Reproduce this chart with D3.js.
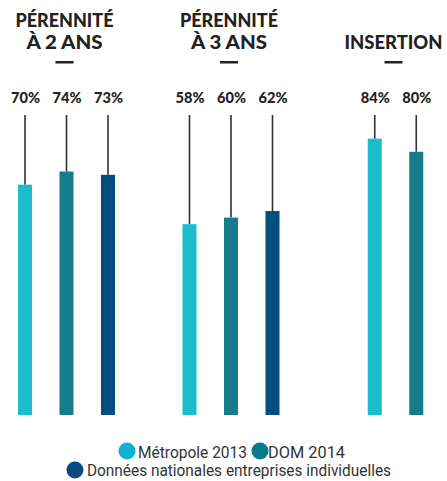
<!DOCTYPE html>
<html><head><meta charset="utf-8">
<script src="https://cdn.jsdelivr.net/npm/d3@7"></script>
<style>body{margin:0;background:#fff;}svg{display:block;}</style>
</head><body>
<script>
const groups = ["PÉRENNITÉ|À 2 ANS", "PÉRENNITÉ|À 3 ANS", "INSERTION"];
const seriesNames = ["Métropole 2013", "DOM 2014", "Données nationales entreprises individuelles"];
const metropole = [70, 58, 84];
const dom = [74, 60, 80];
const nationales = [73, 62, null];
const colors = ["#1bbdcb", "#167b8a", "#034e80"];
const legendColors = ["#10b0cf", "#0b7a8c", "#0b4a80"];

const W = 447, H = 481;
const svg = d3.select("body").append("svg").attr("width", W).attr("height", H);

const x = d3.scalePoint().domain(groups).range([66.5, 395.5]);
const y = d3.scaleLinear().domain([0, 100]).range([415, 86]);
const step = 41.5, bw = 14;

const seriesVals = [metropole, dom, nationales];
const data = [];
groups.forEach((g, gi) => {
  const items = seriesVals.map((s, si) => ({g, gi, si, v: s[gi]})).filter(d => d.v != null);
  const n = items.length;
  items.forEach((d, k) => { d.cx = x(g) + (k - (n - 1) / 2) * step; data.push(d); });
});

// titles
const titleWidth = t => t.length * 10.9;
groups.forEach(g => {
  const lines = g.split("|");
  const cx = x(g) - 2;
  const baselines = lines.length === 2 ? [27, 49] : [49];
  lines.forEach((l, i) => {
    svg.append("text").attr("text-anchor", "middle")
      .attr("x", cx).attr("y", baselines[i])
      .style("font-family", "Lato, 'DejaVu Sans', sans-serif").style("font-weight", 900)
      .style("font-size", "19px").attr("fill", "#222")
      .attr("textLength", l.includes("ANS") ? 76 : 98).attr("lengthAdjust", "spacingAndGlyphs")
      .text(l);
  });
  svg.append("rect").attr("x", cx - 9).attr("y", 61).attr("width", 18).attr("height", 2.5).attr("fill", "#222");
});

// lines
svg.selectAll("line.lead").data(data).join("line").attr("class", "lead")
  .attr("x1", d => d.cx).attr("x2", d => d.cx)
  .attr("y1", 115).attr("y2", d => y(d.v))
  .attr("stroke", "#333").attr("stroke-width", 1.6);

// bars
svg.selectAll("rect.bar").data(data).join("rect").attr("class", "bar")
  .attr("x", d => d.cx - bw / 2).attr("width", bw)
  .attr("y", d => y(d.v)).attr("height", d => y(0) - y(d.v))
  .attr("fill", d => colors[d.si]);

// value labels
svg.selectAll("text.val").data(data).join("text").attr("class", "val")
  .attr("x", d => d.cx + 0.5).attr("y", 103).attr("text-anchor", "middle")
  .style("font-family", "Lato, 'DejaVu Sans', sans-serif").style("font-weight", 900)
  .style("font-size", "15px").attr("fill", "#222")
  .attr("textLength", 29).attr("lengthAdjust", "spacingAndGlyphs")
  .text(d => d.v + "%");

// legend
const legend = [
  {si: 0, cx: 127, cy: 451, tx: 138, ty: 458, w: 109},
  {si: 1, cx: 260, cy: 451, tx: 268, ty: 458, w: 77},
  {si: 2, cx: 75, cy: 470, tx: 87, ty: 476, w: 304}
];
legend.forEach(l => {
  svg.append("circle").attr("cx", l.cx).attr("cy", l.cy).attr("r", 8.5).attr("fill", legendColors[l.si]);
  svg.append("text").attr("x", l.tx).attr("y", l.ty)
    .style("font-family", "'Liberation Sans Narrow', 'Roboto', sans-serif")
    .style("font-size", "16.5px").attr("fill", "#333")
    .attr("textLength", l.w).attr("lengthAdjust", "spacingAndGlyphs")
    .text(seriesNames[l.si]);
});
</script>
</body></html>
